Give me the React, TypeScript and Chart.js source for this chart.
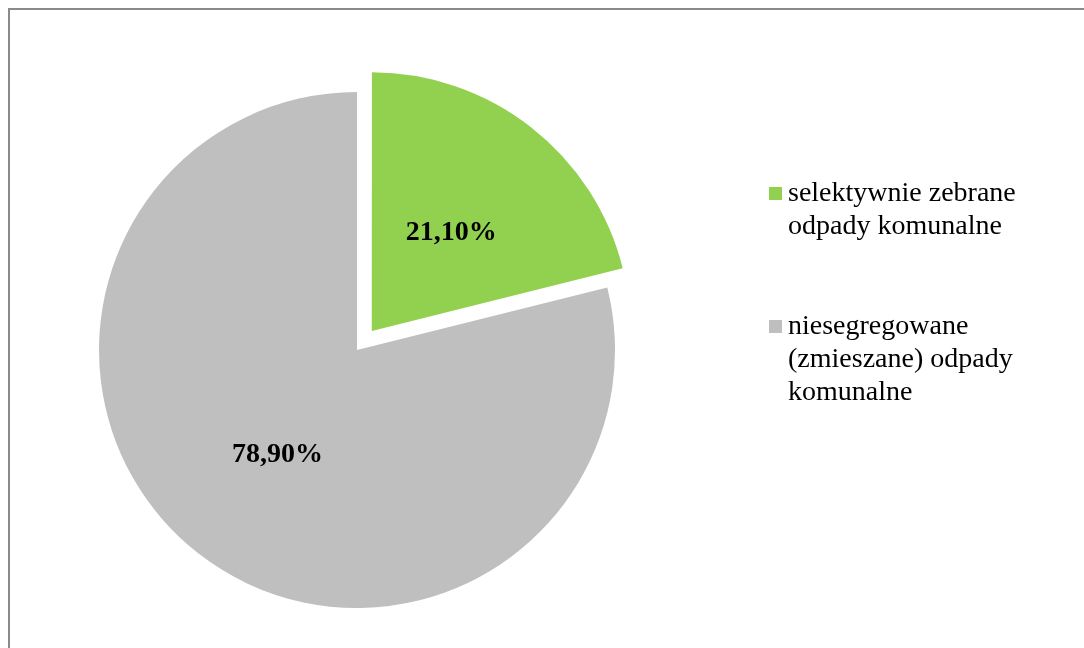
import React, { useEffect, useRef } from "react";
import { Chart, registerables } from "chart.js";

Chart.register(...registerables);

const legendLines: string[][] = [
  ["selektywnie zebrane", "odpady komunalne"],
  ["niesegregowane", "(zmieszane) odpady", "komunalne"],
];
const categories: string[] = legendLines.map((l) => l.join(" "));
const values: number[] = [21.1, 78.9];
const colors: string[] = ["#92D050", "#BFBFBF"];
const offsets: number[] = [96, 0];

const fmt = (v: number) => v.toFixed(2).replace(".", ",") + "%";

const labelPlugin = {
  id: "pieLabels",
  afterDatasetsDraw(chart: any) {
    const ctx = chart.ctx;
    const meta = chart.getDatasetMeta(0);
    const ds = chart.data.datasets[0];
    ctx.save();
    ctx.font = "bold 28px 'Liberation Serif', 'Times New Roman', serif";
    ctx.fillStyle = "#000";
    ctx.textAlign = "center";
    ctx.textBaseline = "middle";
    meta.data.forEach((arc: any, i: number) => {
      const { x, y, startAngle, endAngle, outerRadius } = arc.getProps(
        ["x", "y", "startAngle", "endAngle", "outerRadius"],
        true
      );
      const mid = (startAngle + endAngle) / 2;
      const off = (arc.options.offset || 0) / 4;
      const r = outerRadius * 0.5 + off;
      ctx.fillText(fmt(ds.data[i]), x + Math.cos(mid) * r, y + Math.sin(mid) * r + 3);
    });
    ctx.restore();
  },
};

export default function App() {
  const ref = useRef<HTMLCanvasElement | null>(null);
  useEffect(() => {
    if (!ref.current) return;
    const chart = new Chart(ref.current, {
      type: "pie",
      data: {
        labels: categories,
        datasets: [
          {
            data: values,
            backgroundColor: colors,
            borderWidth: 0,
            offset: offsets,
            radius: 258,
          } as any,
        ],
      },
      options: {
        responsive: false,
        animation: false,
        devicePixelRatio: 1,
        layout: { padding: { left: 0, right: 370, top: 52, bottom: 0 } },
        plugins: {
          legend: { display: false },
          tooltip: { enabled: false },
        },
      },
      plugins: [labelPlugin],
    });
    return () => chart.destroy();
  }, []);

  const legendTops = [175, 308];
  return (
    <div>
      <div
        style={{
          position: "fixed",
          left: 8,
          top: 8,
          width: 1100,
          height: 660,
          borderTop: "2px solid #8a8a8a",
          borderLeft: "2px solid #8a8a8a",
          boxSizing: "border-box",
        }}
      />
      <canvas
        ref={ref}
        width={1084}
        height={648}
        style={{ position: "fixed", left: 0, top: 0, width: 1084, height: 648 }}
      />
      {legendLines.map((lines, i) => (
        <div
          key={i}
          style={{
            position: "fixed",
            left: 769,
            top: legendTops[i],
            fontFamily: "'Liberation Serif', 'Times New Roman', serif",
            fontSize: 28,
            lineHeight: "33px",
            color: "#000",
            whiteSpace: "nowrap",
          }}
        >
          <span
            style={{
              position: "absolute",
              left: 0,
              top: 12,
              width: 13,
              height: 13,
              background: colors[i],
            }}
          />
          <div style={{ marginLeft: 19 }}>
            {lines.map((l, j) => (
              <div key={j}>{l}</div>
            ))}
          </div>
        </div>
      ))}
    </div>
  );
}
